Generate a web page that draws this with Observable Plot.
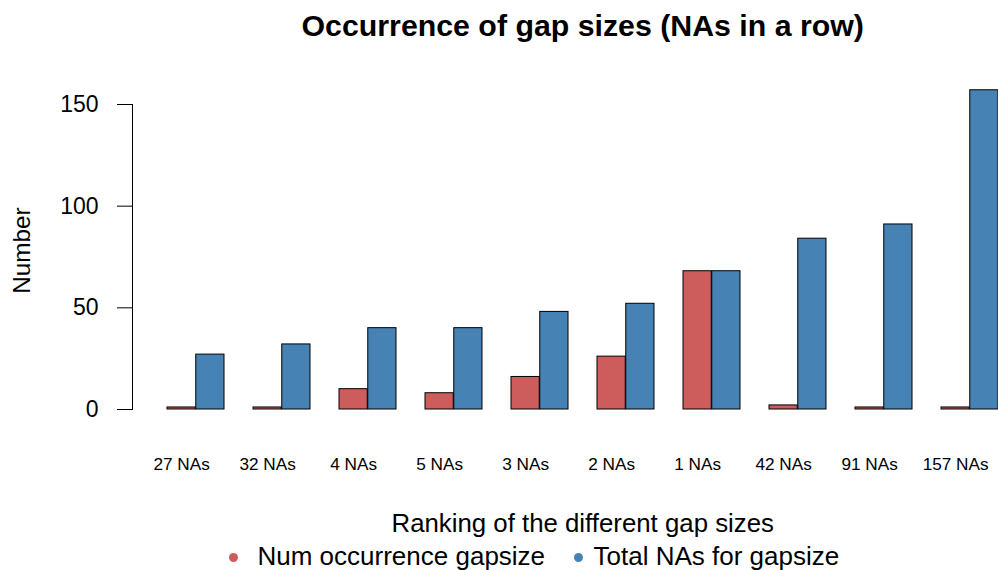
<!DOCTYPE html>
<html><head><meta charset="utf-8">
<script src="https://cdn.jsdelivr.net/npm/d3@7"></script>
<script src="https://cdn.jsdelivr.net/npm/@observablehq/plot@0.6"></script>
<style>
body{margin:0;background:#fff}
#chart svg{font-family:"Liberation Sans",Arial,Helvetica,sans-serif;overflow:hidden}
</style>
</head><body><div id="chart"></div>
<script>
const gapLabels = ["27 NAs","32 NAs","4 NAs","5 NAs","3 NAs","2 NAs","1 NAs","42 NAs","91 NAs","157 NAs"];
const numOccurrence = [1,1,10,8,16,26,68,2,1,1];
const totalNAs = [27,32,40,40,48,52,68,84,91,157];
const yTicks = [0,50,100,150];
const seriesNames = ["Num occurrence gapsize","Total NAs for gapsize"];
const seriesColors = ["indianred","steelblue"];
const titleText = "Occurrence of gap sizes (NAs in a row)";
const xTitle = "Ranking of the different gap sizes";
const yTitle = "Number";

const occ = gapLabels.map((g,i)=>({gap:g, value:numOccurrence[i]}));
const tot = gapLabels.map((g,i)=>({gap:g, value:totalNAs[i]}));
const halfBand = 28.76;
const legendDotOffsets = [101, 446];
const legendTextOffsets = [125, 461];

const legendMarks = seriesNames.flatMap((name, i) => [
  Plot.dot([name], {frameAnchor:"bottom-left", dx: legendDotOffsets[i], dy: 148, r: 4.5, fill: seriesColors[i], stroke: null}),
  Plot.text([name], {frameAnchor:"bottom-left", dx: legendTextOffsets[i], dy: 147, fontSize: 26, fill:"black", textAnchor:"start", lineAnchor:"middle"})
]);

const chart = Plot.plot({
  width: 998, height: 570,
  marginLeft: 132, marginRight: -34.4, marginTop: 104, marginBottom: 161,
  x: {domain: gapLabels, paddingInner: 1/3, paddingOuter: 0.3867, axis: null},
  y: {domain: [0,150], axis: null},
  marks: [
    Plot.barY(occ, {x:"gap", y:"value", fill: seriesColors[0], stroke:"black", strokeWidth:1, insetRight: halfBand}),
    Plot.barY(tot, {x:"gap", y:"value", fill: seriesColors[1], stroke:"black", strokeWidth:1, insetLeft: halfBand}),
    Plot.frame({anchor:"left", stroke:"black", strokeWidth:1}),
    Plot.axisY({ticks: yTicks, tickSize: 15, tickPadding: 19, fontSize: 23, label: null, stroke:"black", color:"black"}),
    Plot.axisX({tickSize: 0, tickPadding: 48, dx: -halfBand/2, fontSize: 17.2, label: null, color:"black"}),
    Plot.text([titleText], {frameAnchor:"top", dy: -78, fontSize: 30.3, fontWeight:"bold", fill:"black", lineAnchor:"middle"}),
    Plot.text([xTitle], {frameAnchor:"bottom", dy: 114, fontSize: 25.8, fill:"black", lineAnchor:"middle"}),
    Plot.text([yTitle], {frameAnchor:"left", dx: -110, dy: -6.5, rotate: -90, fontSize: 24.3, fill:"black", textAnchor:"middle", lineAnchor:"middle"}),
    ...legendMarks
  ]
});
document.getElementById("chart").append(chart);
</script>
</body></html>
